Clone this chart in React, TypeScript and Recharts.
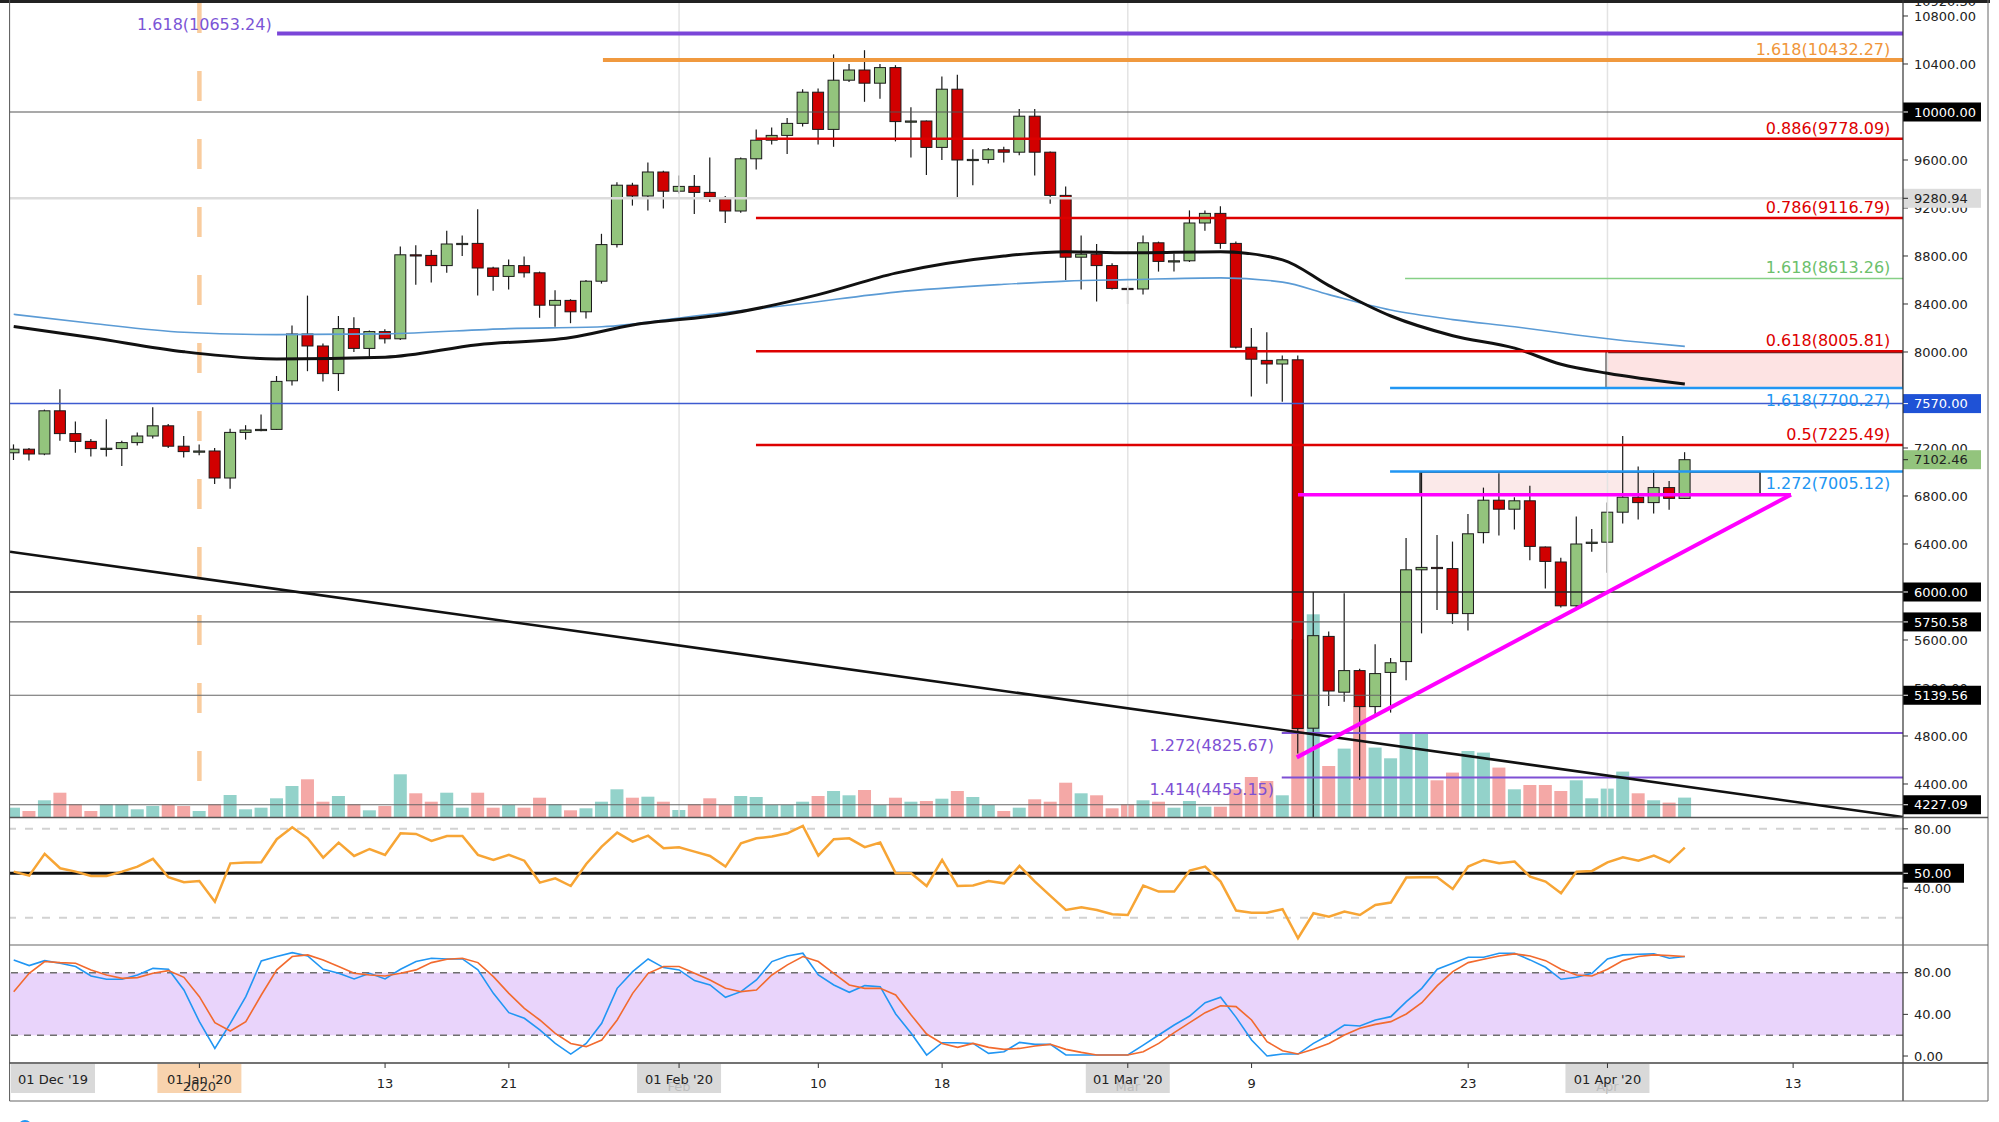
import React from 'react';
import { ComposedChart, Bar, Line, XAxis, YAxis, ReferenceLine, ReferenceArea, ReferenceDot } from 'recharts';

const FONT = "'DejaVu Sans', sans-serif";

// ---------------- data ----------------
const dates = [
  '2019-12-20','2019-12-21','2019-12-22','2019-12-23','2019-12-24','2019-12-25','2019-12-26','2019-12-27','2019-12-28','2019-12-29','2019-12-30','2019-12-31',
  '2020-01-01','2020-01-02','2020-01-03','2020-01-04','2020-01-05','2020-01-06','2020-01-07','2020-01-08','2020-01-09','2020-01-10','2020-01-11','2020-01-12','2020-01-13','2020-01-14','2020-01-15','2020-01-16','2020-01-17','2020-01-18','2020-01-19','2020-01-20','2020-01-21','2020-01-22','2020-01-23','2020-01-24','2020-01-25','2020-01-26','2020-01-27','2020-01-28','2020-01-29','2020-01-30','2020-01-31',
  '2020-02-01','2020-02-02','2020-02-03','2020-02-04','2020-02-05','2020-02-06','2020-02-07','2020-02-08','2020-02-09','2020-02-10','2020-02-11','2020-02-12','2020-02-13','2020-02-14','2020-02-15','2020-02-16','2020-02-17','2020-02-18','2020-02-19','2020-02-20','2020-02-21','2020-02-22','2020-02-23','2020-02-24','2020-02-25','2020-02-26','2020-02-27','2020-02-28','2020-02-29',
  '2020-03-01','2020-03-02','2020-03-03','2020-03-04','2020-03-05','2020-03-06','2020-03-07','2020-03-08','2020-03-09','2020-03-10','2020-03-11','2020-03-12','2020-03-13','2020-03-14','2020-03-15','2020-03-16','2020-03-17','2020-03-18','2020-03-19','2020-03-20','2020-03-21','2020-03-22','2020-03-23','2020-03-24','2020-03-25','2020-03-26','2020-03-27','2020-03-28','2020-03-29','2020-03-30','2020-03-31',
  '2020-04-01','2020-04-02','2020-04-03','2020-04-04','2020-04-05','2020-04-06',
];

const opens = [
  7160,7190,7150,7510,7320,7255,7195,7195,7245,7300,7385,7215,
  7170,7175,6950,7330,7350,7355,7760,8150,8050,7820,8195,8030,8170,8110,8810,8805,8720,8900,8905,8700,8630,8720,8660,8390,8430,8335,8590,8895,9390,9300,9500,
  9340,9380,9330,9275,9175,9610,9765,9805,9905,10165,9855,10265,10350,10240,10370,9920,9925,9705,10190,9600,9605,9685,9665,9965,9665,9305,8790,8815,8720,
  8530,8525,8910,8755,8760,9075,9155,8905,8040,7930,7900,7935,4865,5630,5165,5345,5045,5330,5420,6185,6205,6195,5820,6495,6765,6690,6760,6375,6250,5885,6405,
  6415,6665,6790,6745,6870,6780,
];
const highs = [
  7230,7200,7520,7690,7420,7275,7440,7260,7330,7540,7400,7300,
  7230,7200,7360,7390,7480,7800,8220,8470,8070,8300,8290,8180,8190,8880,8890,8850,9010,8970,9190,8710,8770,8795,8670,8515,8440,8600,8985,9415,9410,9580,9510,
  9470,9475,9620,9300,9620,9855,9870,9950,10190,10195,10480,10400,10515,10400,10390,10040,9930,10295,10310,9690,9700,9710,10025,10025,9670,9380,8970,8900,8740,
  8550,8970,8920,8820,9180,9180,9215,8920,8200,8165,7970,7970,6000,5670,5990,5360,5565,5450,6450,7000,6475,6420,6650,6870,6990,6790,6885,6380,6285,6630,6525,
  6745,7300,7045,7015,6925,7165,
];
const lows = [
  7100,7095,7140,7260,7160,7130,7130,7050,7220,7280,7200,7120,
  7140,6900,6860,7270,7340,7350,7720,7840,7755,7675,8000,7960,8070,8100,8560,8580,8660,8800,8470,8510,8520,8620,8285,8210,8240,8280,8570,8870,9220,9180,9195,
  9320,9150,9250,9075,9160,9520,9730,9650,9880,9730,9710,10250,10085,10110,9755,9620,9475,9600,9285,9390,9570,9580,9640,9470,9235,8600,8520,8420,8520,
  8400,8480,8670,8670,8750,9010,8860,8030,7630,7735,7585,4655,3850,5050,5085,4435,4975,4995,5265,5655,5850,5735,5680,6405,6470,6520,6265,6030,5870,5870,6335,
  6160,6570,6605,6655,6685,6775,
];
const closes = [
  7190,7150,7510,7320,7255,7195,7198,7245,7300,7385,7215,7170,
  7175,6950,7330,7350,7355,7755,8150,8050,7820,8195,8030,8170,8110,8810,8805,8720,8900,8905,8700,8630,8720,8660,8390,8430,8335,8590,8895,9390,9300,9500,9340,
  9380,9330,9290,9175,9610,9765,9805,9905,10165,9855,10265,10350,10240,10370,9920,9925,9705,10190,9600,9605,9685,9665,9965,9665,9305,8790,8815,8720,8530,
  8525,8910,8755,8760,9075,9155,8905,8040,7940,7900,7935,4863,5636,5175,5345,5045,5320,5410,6185,6205,6195,5820,6485,6765,6690,6760,6380,6255,5885,6400,6415,
  6665,6790,6745,6870,6780,7102.46,
];
const volumes = [
  9.3,6,16.7,24.3,12.7,6,12.7,12.7,7.7,11,12.7,11,
  6,12.7,22,7.7,9.3,18.7,31,37.7,15.3,21,12.7,6.7,11,42.7,23.7,15.3,24.3,9.3,24.3,9.3,12,9.3,19.3,12.7,6.7,8.7,15.3,27.7,19.3,20.3,15.3,
  7,12.7,18.7,12,21,20,12,12,15.3,21,26,21.7,27,12,19.3,15.3,16,18.3,26,20,12,6,9.3,17.7,15.3,34.3,23.7,21.7,8.7,
  12.7,16.7,15.3,9.3,16,10.3,10.3,27.7,40,36,21.7,177.7,202.7,51,68.4,111,69.4,58.7,84.4,84.4,36.7,44.4,66,64.4,49.4,27.7,32,32,26,36.7,18.7,
  28.4,45.4,23.7,16.7,14.4,19.4,
];
const rsiValues = [
  51.1,48.4,63.1,53.4,51.1,48.2,48.2,51.1,54.5,59.7,47.3,43.9,
  44.8,30.8,56.7,57.2,57.4,73,81.1,73.6,60.6,70.7,61.7,66.4,62.4,77,76.6,71.8,75.2,75.2,62.4,59,62.4,58.5,43.7,46.6,41.4,56.3,68,77.5,71.4,75.4,66.9,
  67.6,64.6,61.7,54.5,70.3,73.6,74.8,77,82,61.9,73,73.6,67.6,70.7,50,50,41.4,59,41.4,41.7,44.8,43.2,55,44.4,34.7,25.2,27,25.2,22.3,
  21.8,41.7,37.6,37.6,51.8,54.5,44.4,24.8,23.4,23.4,25.7,6.1,23,20.7,24.1,21.8,28.6,30.2,47.1,47.3,47.3,39.4,54.5,59,56.7,57.9,47.7,44.4,36.5,51.1,51.6,
  57.4,60.8,58.5,61.9,57.4,67.3,
];
const stochK = [
  92.3,86.8,91.6,89.1,85.9,76.9,73.7,73.7,77.8,84.2,83.3,63.4,
  33,7.3,31.4,57,91.3,95.5,99.3,96.1,83.3,79.4,74,79.4,74,83.3,90.7,93.9,93.2,93.2,82.7,60.2,41.6,36.2,25,12.1,1.9,12.1,31.4,65,81,93.2,84.9,
  82.7,72.4,68.2,56.4,61.8,73,90.7,96.1,98.7,77.8,68.2,61.2,67.6,66.6,40.4,21.8,0.9,12.8,12.8,12.1,2.5,4.1,13.1,11.2,11.2,1,1,1,1,
  1,10.5,20.2,29.8,38.4,51.2,56.4,37.1,15.4,0,1.9,1.9,12.1,20.2,29.8,28.8,34.6,37.8,52.2,65,83.3,89.1,94.8,94.8,98.7,98.7,92.3,85.2,73.7,75.6,79.4,
  93.2,97.1,97.7,98.1,93.9,95.5,
];
const stochD = [
  61.8,79.4,90.7,89.7,89.1,82.7,77.8,74.6,75.3,79.4,82,75.6,
  57,32,24,33,58.6,82.7,95.5,97.1,92.3,85.9,79.4,77.8,76.9,79.4,82.7,89.7,92.9,93.9,89.7,76.2,60.2,45.8,34.6,21.8,12.1,9,15.4,34.6,60.2,79.4,85.9,
  85.9,79.4,73,65,61.8,63.4,77.8,87.5,95.5,90.7,79.4,68.2,65,65,58.6,39.4,21.1,12.1,8.3,12.1,8.3,6.4,7.3,9.6,11.2,6.4,3.5,1,1,
  1,4.1,12.1,22.4,32,41.6,48.3,47.4,34.6,13.8,5.1,1.9,6.4,12.1,20.2,26.6,30.4,33,40.4,51.2,67.6,81,89.7,92.9,96.1,98.1,96.1,91.6,83.3,77.8,76.9,
  83.3,91.6,95.5,97.1,96.4,95.5,
];

// moving averages (day offset from 1 Jan 2020, value)
const maSlowDays = [-12,-7,-1,5,12,18,24,28,34,40,45,52,56,60,66,70,73,77,81,85,88,91,96];
const maSlowValues = [8212,8121,8002,7942,7957,8061,8121,8225,8314,8478,8657,8800,8836,8827,8836,8768,8553,8300,8136,8032,7898,7823,7734];
const maLongDays = [-12,-7,-1,5,12,20,26,32,39,45,52,56,60,66,70,73,77,81,85,89,93,96];
const maLongValues = [8314,8240,8165,8145,8151,8195,8210,8300,8404,8499,8564,8591,8603,8618,8582,8478,8350,8270,8210,8142,8083,8047];

// fibonacci / drawn levels
const fibTexts = ['1.618(10653.24)','1.618(10432.27)','0.886(9778.09)','0.786(9116.79)','1.618(8613.26)','0.618(8005.81)','1.618(7700.27)','0.5(7225.49)','1.272(7005.12)','1.272(4825.67)','1.414(4455.15)'];
const fibPrices = [10653.24,10432.27,9778.09,9116.79,8613.26,8005.81,7700.27,7225.49,7005.12,4825.67,4455.15];
const fibStartDays = [5.02,26.08,35.97,35.97,77.92,35.97,76.95,35.97,76.95,69.95,69.95];
const horizontalLevels = [10000,9280.94,7570,6000,5750.58,5139.56,4227.09];
const resistanceZone = { x1: 90.91, x2: 110.1, y1: 7700, y2: 7995 };
const rangeZone = { x1: 78.89, x2: 100.86, y1: 6811, y2: 6999 };
const triangleTop = [{ x: 71.0, y: 6811 }, { x: 102.86, y: 6811 }];
const triangleBottom = [{ x: 70.92, y: 4622 }, { x: 102.86, y: 6811 }];
const longTrend = [{ x: -12.24, y: 6336 }, { x: 110.1, y: 4125 }];
const monthStarts = [31, 60, 91];
const yearStart = 0;

// axis ticks
const priceTicks = [10800,10400,9600,9200,8800,8400,8000,7200,6800,6400,5600,5200,4800,4400];
const priceMarkers = [10920.3,10000,9280.94,7570,7102.46,6000,5750.58,5139.56,4227.09];
const rsiTicks = [80, 40];
const rsiMarkers = [50];
const stochTicks = [80, 40, 0];
const timeTickDays = [-9.46, 0, 12, 20, 31, 40, 48, 60, 68, 82, 91, 103];
const timeTickLabels = ["01 Dec '19", "01 Jan '20", '13', '21', "01 Feb '20", '10', '18', "01 Mar '20", '9', '23', "01 Apr '20", '13'];
const timeTickSubLabels = ['', '2020', '', '', 'Feb', '', '', 'Mar', '', '', 'Apr', ''];

// ---------------- styles ----------------
const X_DOMAIN: [number, number] = [-12.24, 110.1];
const PRICE_DOMAIN: [number, number] = [4125, 10908.3];
const UP = '#93c47d';
const DOWN = '#d10000';
const TEAL = '#93d2ca';
const SALMON = '#f4a8a6';
const RED = '#dd0000';
const LBLUE = '#2196f3';
const PURPLE = '#7a45d8';
const fibStyle = [
  { color: PURPLE, text: '#7b55d6', w: 4, labelDay: -4.03, anchor: 'start', dy: -4 },
  { color: '#f0993f', text: '#f0963a', w: 4, labelDay: 109.28, anchor: 'end', dy: -5 },
  { color: RED, text: RED, w: 2.5, labelDay: 109.28, anchor: 'end', dy: -5 },
  { color: RED, text: RED, w: 2.5, labelDay: 109.28, anchor: 'end', dy: -5 },
  { color: '#86d086', text: '#6cc06c', w: 1.5, labelDay: 109.28, anchor: 'end', dy: -5 },
  { color: RED, text: RED, w: 2.5, labelDay: 109.28, anchor: 'end', dy: -5 },
  { color: LBLUE, text: LBLUE, w: 2.5, labelDay: 109.28, anchor: 'end', dy: 18 },
  { color: RED, text: RED, w: 2.5, labelDay: 109.28, anchor: 'end', dy: -5 },
  { color: LBLUE, text: LBLUE, w: 2.5, labelDay: 109.28, anchor: 'end', dy: 18 },
  { color: '#7e50d4', text: '#7e50d4', w: 2, labelDay: 69.45, anchor: 'end', dy: 18 },
  { color: '#7e50d4', text: '#7e50d4', w: 2, labelDay: 69.45, anchor: 'end', dy: 18 },
];
const levelStyle = [
  { color: '#555', w: 1.2 },
  { color: '#dcdcdc', w: 2.5 },
  { color: '#3d5bd0', w: 1.5 },
  { color: '#222', w: 1.5 },
  { color: '#666', w: 1.2 },
  { color: '#666', w: 1.2 },
  { color: '#666', w: 1.2 },
];
const markerStyle = [
  { bg: 'none', fg: '#222', w: 78 },
  { bg: '#000', fg: '#fff', w: 78 },
  { bg: '#dcdcdc', fg: '#222', w: 78 },
  { bg: '#1f52d6', fg: '#fff', w: 78 },
  { bg: '#93c47d', fg: '#222', w: 78 },
  { bg: '#000', fg: '#fff', w: 78 },
  { bg: '#000', fg: '#fff', w: 78 },
  { bg: '#000', fg: '#fff', w: 78 },
  { bg: '#000', fg: '#fff', w: 78 },
];
const timeTickKinds = ['grey', 'orange', 'plain', 'plain', 'grey', 'plain', 'plain', 'grey', 'plain', 'plain', 'grey', 'plain'];

// ---------------- derived rows ----------------
const dayIndex = (s: string) => {
  const [y, m, d] = s.split('-').map(Number);
  return Math.round((Date.UTC(y, m - 1, d) - Date.UTC(2020, 0, 1)) / 86400000);
};
const rows = dates.map((s, i) => ({
  d: dayIndex(s),
  open: opens[i],
  high: highs[i],
  low: lows[i],
  close: closes[i],
  range: [lows[i], highs[i]],
  vol: volumes[i],
  rsi: rsiValues[i],
  k: stochK[i],
  dd: stochD[i],
}));
const maSlow = maSlowDays.map((d, i) => ({ d, v: maSlowValues[i] }));
const maLong = maLongDays.map((d, i) => ({ d, v: maLongValues[i] }));

// ---------------- shapes ----------------
const CANDLE_W = 11;
const Candle = (props: any) => {
  const { x, y, width, height, payload } = props;
  if (!payload || x == null || y == null) return null;
  const top = Math.min(y, y + height);
  const bot = Math.max(y, y + height);
  const span = payload.high - payload.low;
  const k = span > 0 ? (bot - top) / span : 0;
  const py = (p: number) => top + (payload.high - p) * k;
  const cx = x + width / 2;
  const bw = Math.max(width, 1);
  const up = payload.close >= payload.open;
  const bTop = py(Math.max(payload.open, payload.close));
  let bH = py(Math.min(payload.open, payload.close)) - bTop;
  if (bH < 1.2) bH = 1.2;
  return (
    <g>
      <line x1={cx} x2={cx} y1={top} y2={bot} stroke="#1a1a1a" strokeWidth={1.2} />
      <rect x={cx - bw / 2} y={bTop} width={bw} height={bH} fill={up ? UP : DOWN} stroke="#1a1a1a" strokeWidth={1} />
    </g>
  );
};

const VolBar = (props: any) => {
  const { x, y, width, height, payload } = props;
  if (!payload || x == null) return null;
  const top = Math.min(y, y + height);
  return <rect x={x} y={top} width={width} height={Math.abs(height)} fill={payload.close >= payload.open ? TEAL : SALMON} />;
};

const makeAxisTick = (markers: number[], styles: any[]) => (props: any) => {
  const { x, y, payload } = props;
  const v = payload?.value;
  if (v == null) return null;
  const mi = markers.indexOf(v);
  const text = Number(v).toFixed(2);
  if (mi < 0) {
    return (
      <g>
        <line x1={x} x2={x + 5} y1={y} y2={y} stroke="#333" strokeWidth={1} />
        <text x={x + 11} y={y} dy="0.36em" fontSize={13} fontFamily={FONT} fill="#222">{text}</text>
      </g>
    );
  }
  const st = styles[mi];
  return (
    <g>
      {st.bg !== 'none' && <rect x={x} y={y - 9.5} width={st.w} height={19} fill={st.bg} />}
      <line x1={x} x2={x + 5} y1={y} y2={y} stroke={st.fg} strokeWidth={1} />
      <text x={x + 11} y={y} dy="0.36em" fontSize={13} fontFamily={FONT} fill={st.fg}>{text}</text>
    </g>
  );
};
const PriceTick = makeAxisTick(priceMarkers, markerStyle);
const RsiTick = makeAxisTick(rsiMarkers, [{ bg: '#000', fg: '#fff', w: 61 }]);
const StochTick = makeAxisTick([], []);

const TimeTick = (props: any) => {
  const { x, y, payload } = props;
  const i = timeTickDays.indexOf(payload?.value);
  if (i < 0) return null;
  const kind = timeTickKinds[i];
  const label = timeTickLabels[i];
  const sub = timeTickSubLabels[i];
  if (kind === 'plain') {
    return (
      <g>
        <line x1={x} x2={x} y1={y} y2={y + 5} stroke="#333" />
        <text x={x} y={y + 20} dy="0.36em" textAnchor="middle" fontSize={13} fontFamily={FONT} fill="#222">{label}</text>
      </g>
    );
  }
  return (
    <g>
      <rect x={x - 42} y={y + 1} width={84} height={29} fill={kind === 'orange' ? '#f8d3ae' : '#d9d9d9'} />
      {i > 0 && <line x1={x} x2={x} y1={y} y2={y + 5} stroke="#333" />}
      {sub && (
        <text x={x} y={y + 23} dy="0.36em" textAnchor="middle" fontSize={13} fontFamily={FONT} fill={kind === 'orange' ? '#333' : '#bdbdbd'}>{sub}</text>
      )}
      <text x={x} y={y + 16} dy="0.36em" textAnchor="middle" fontSize={13} fontFamily={FONT} fill="#222">{label}</text>
    </g>
  );
};

const labelShape = (text: string, color: string, anchor: string, dy: number) => (p: any) => (
  <text x={p.cx} y={p.cy + dy} textAnchor={anchor as any} fontSize={16} fontFamily={FONT} fill={color}>{text}</text>
);

// ---------------- charts ----------------
const W = 1999;

const VolumeChart = () => (
  <ComposedChart width={W} height={820} data={rows} margin={{ top: 3, right: 96, bottom: 3, left: 10 }}>
    <XAxis dataKey="d" type="number" domain={X_DOMAIN} hide allowDataOverflow />
    <YAxis type="number" domain={[0, 814]} hide allowDataOverflow />
    <Bar dataKey="vol" barSize={13} shape={<VolBar />} isAnimationActive={false} />
  </ComposedChart>
);

const MainChart = () => (
  <ComposedChart width={W} height={820} data={rows} margin={{ top: 3, right: 9, bottom: 3, left: 10 }}>
    <XAxis dataKey="d" type="number" domain={X_DOMAIN} hide allowDataOverflow />
    <YAxis
      orientation="right"
      width={87}
      type="number"
      domain={PRICE_DOMAIN}
      allowDataOverflow
      ticks={[...priceTicks, ...priceMarkers]}
      interval={0}
      tick={<PriceTick />}
      tickSize={0}
      tickMargin={0}
      tickLine={false}
      axisLine={false}
    />
    {monthStarts.map((d) => (
      <ReferenceLine key={'m' + d} x={d} stroke="#e3e3e3" strokeWidth={1.5} />
    ))}
    <ReferenceLine
      segment={[{ x: yearStart, y: PRICE_DOMAIN[1] }, { x: yearStart, y: PRICE_DOMAIN[0] }]}
      stroke="#f9cc9e"
      strokeWidth={4.5}
      strokeDasharray="30 38"
      ifOverflow="hidden"
    />
    {horizontalLevels.map((p, i) => (
      <ReferenceLine key={'h' + i} y={p} stroke={levelStyle[i].color} strokeWidth={levelStyle[i].w} />
    ))}
    <ReferenceArea x1={resistanceZone.x1} x2={resistanceZone.x2} y1={resistanceZone.y1} y2={resistanceZone.y2} fill="#fde3e3" fillOpacity={1} stroke="#333" strokeWidth={1.2} ifOverflow="hidden" />
    <ReferenceArea x1={rangeZone.x1} x2={rangeZone.x2} y1={rangeZone.y1} y2={rangeZone.y2} fill="#fbe9e9" fillOpacity={1} stroke="#222" strokeWidth={1.5} ifOverflow="hidden" />
    <Bar dataKey="range" barSize={CANDLE_W} shape={<Candle />} isAnimationActive={false} />
    <Line data={maLong} dataKey="v" type="monotone" stroke="#5b9bd5" strokeWidth={1.6} dot={false} activeDot={false} isAnimationActive={false} />
    <Line data={maSlow} dataKey="v" type="monotone" stroke="#111" strokeWidth={3} dot={false} activeDot={false} isAnimationActive={false} />
    {fibPrices.map((p, i) => (
      <ReferenceLine
        key={'f' + i}
        segment={[{ x: fibStartDays[i], y: p }, { x: X_DOMAIN[1], y: p }]}
        stroke={fibStyle[i].color}
        strokeWidth={fibStyle[i].w}
        ifOverflow="hidden"
      />
    ))}
    <ReferenceLine segment={longTrend} stroke="#111" strokeWidth={2.6} ifOverflow="hidden" />
    <ReferenceLine segment={triangleTop} stroke="#ff00ff" strokeWidth={3.5} ifOverflow="hidden" />
    <ReferenceLine segment={triangleBottom} stroke="#ff00ff" strokeWidth={4} ifOverflow="hidden" />
    {fibPrices.map((p, i) => (
      <ReferenceDot
        key={'fl' + i}
        x={fibStyle[i].labelDay}
        y={p}
        r={0}
        ifOverflow="visible"
        shape={labelShape(fibTexts[i], fibStyle[i].text, fibStyle[i].anchor, fibStyle[i].dy)}
      />
    ))}
  </ComposedChart>
);

const RsiChart = () => (
  <ComposedChart width={W} height={128} data={rows} margin={{ top: 0, right: 9, bottom: 0, left: 10 }}>
    <XAxis dataKey="d" type="number" domain={X_DOMAIN} hide allowDataOverflow />
    <YAxis
      orientation="right"
      width={87}
      type="number"
      domain={[1.55, 88]}
      allowDataOverflow
      ticks={[...rsiTicks, ...rsiMarkers]}
      interval={0}
      tick={<RsiTick />}
      tickSize={0}
      tickMargin={0}
      tickLine={false}
      axisLine={false}
    />
    <ReferenceLine y={80} stroke="#d2d2d2" strokeWidth={2} strokeDasharray="8 9" />
    <ReferenceLine y={20} stroke="#d2d2d2" strokeWidth={2} strokeDasharray="8 9" />
    <ReferenceLine y={50} stroke="#111" strokeWidth={3} />
    <Line dataKey="rsi" type="linear" stroke="#f7a535" strokeWidth={2.5} dot={false} activeDot={false} isAnimationActive={false} />
  </ComposedChart>
);

const StochChart = () => (
  <ComposedChart width={W} height={157} data={rows} margin={{ top: 0, right: 9, bottom: 0, left: 10 }}>
    <XAxis
      dataKey="d"
      type="number"
      domain={X_DOMAIN}
      allowDataOverflow
      ticks={timeTickDays}
      interval={0}
      tick={<TimeTick />}
      tickSize={0}
      tickMargin={0}
      tickLine={false}
      axisLine={false}
      height={39}
    />
    <YAxis
      orientation="right"
      width={87}
      type="number"
      domain={[-6.7, 106.6]}
      allowDataOverflow
      ticks={stochTicks}
      interval={0}
      tick={<StochTick />}
      tickSize={0}
      tickMargin={0}
      tickLine={false}
      axisLine={false}
    />
    <ReferenceArea y1={20} y2={80} fill="#e9d4fb" fillOpacity={1} stroke="none" />
    <ReferenceLine y={80} stroke="#6f6f6f" strokeWidth={1.5} strokeDasharray="7 6" />
    <ReferenceLine y={20} stroke="#6f6f6f" strokeWidth={1.5} strokeDasharray="7 6" />
    <Line dataKey="k" type="linear" stroke="#2196f3" strokeWidth={1.6} dot={false} activeDot={false} isAnimationActive={false} />
    <Line dataKey="dd" type="linear" stroke="#f26a2e" strokeWidth={1.6} dot={false} activeDot={false} isAnimationActive={false} />
  </ComposedChart>
);

const Frame = () => (
  <svg width={W} height={1122} style={{ position: 'absolute', left: 0, top: 0, pointerEvents: 'none' }}>
    <rect x={0} y={0} width={1990} height={3} fill="#222" />
    <line x1={9.6} x2={9.6} y1={0} y2={1101} stroke="#555" strokeWidth={1} />
    <line x1={1903} x2={1903} y1={0} y2={1101} stroke="#333" strokeWidth={1.2} />
    <line x1={1988} x2={1988} y1={0} y2={1101} stroke="#666" strokeWidth={1} />
    <line x1={9.6} x2={1988} y1={817.5} y2={817.5} stroke="#555" strokeWidth={1.5} />
    <line x1={9.6} x2={1988} y1={945} y2={945} stroke="#666" strokeWidth={1.2} />
    <line x1={9.6} x2={1988} y1={1063} y2={1063} stroke="#444" strokeWidth={1.5} />
    <line x1={9.6} x2={1988} y1={1101} y2={1101} stroke="#666" strokeWidth={1.2} />
    <circle cx={25} cy={1127} r={7} fill="#2196f3" />
  </svg>
);

export default function App() {
  return (
    <div style={{ position: 'absolute', left: 0, top: 0, width: W, height: 1122, background: '#fff', overflow: 'hidden', fontFamily: FONT }}>
      <div style={{ position: 'absolute', left: 0, top: 0 }}><VolumeChart /></div>
      <div style={{ position: 'absolute', left: 0, top: 0 }}><MainChart /></div>
      <div style={{ position: 'absolute', left: 0, top: 817 }}><RsiChart /></div>
      <div style={{ position: 'absolute', left: 0, top: 945 }}><StochChart /></div>
      <Frame />
    </div>
  );
}
